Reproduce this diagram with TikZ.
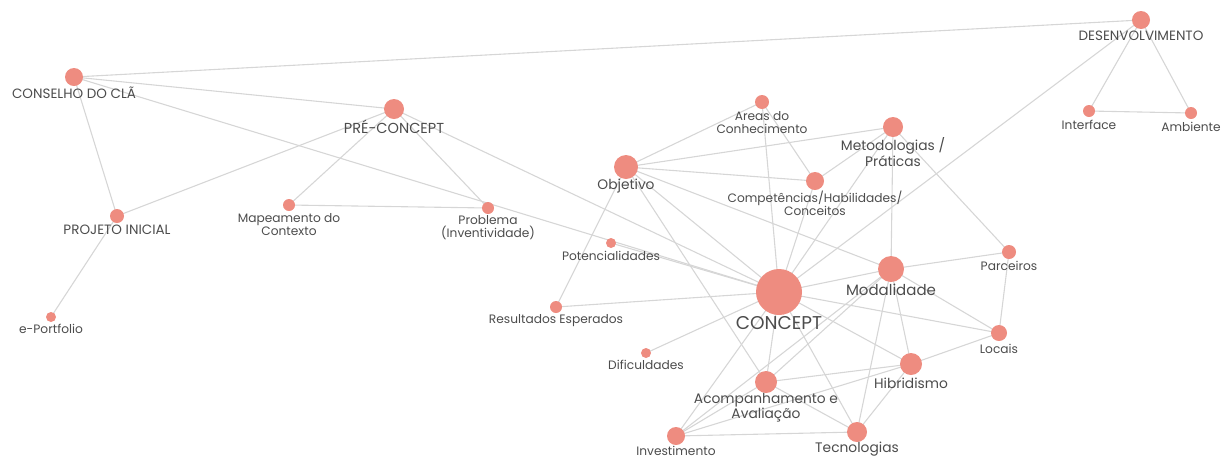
\documentclass[tikz,border=0pt]{standalone}
\usepackage{fontspec}
\setmainfont{Poppins}
\usetikzlibrary{backgrounds}
\definecolor{dot}{HTML}{EE8C80}
\definecolor{edge}{HTML}{D6D6D6}
\definecolor{txt}{HTML}{4C4C4C}
\begin{document}
\begin{tikzpicture}[x=1pt,y=-1pt,
  dotn/.style={circle,fill=dot,inner sep=0pt,minimum size=#1},
  lab/.style={text=txt,font=\fontsize{12.2}{13}\selectfont,align=center,inner sep=0pt},
  midlab/.style={lab,font=\fontsize{13.8}{14}\selectfont},
  caplab/.style={lab,font=\fontsize{13.5}{14}\selectfont},
  biglab/.style={lab,font=\fontsize{18.5}{19}\selectfont},
  link/.style={draw=edge,line width=1.1pt}]
\useasboundingbox (0,0) rectangle (1228,459);
% nodes
\node[dotn=18pt] (des) at (1141,20) {};
\node[dotn=12pt] (int) at (1089,111) {};
\node[dotn=12pt] (amb) at (1191,113) {};
\node[dotn=18pt] (con) at (74,77) {};
\node[dotn=20pt] (pre) at (394,109) {};
\node[dotn=14pt] (pro) at (117,216) {};
\node[dotn=10pt] (epf) at (51,317) {};
\node[dotn=12pt] (map) at (289,205) {};
\node[dotn=12pt] (prb) at (488,208) {};
\node[dotn=10pt] (pot) at (611,243) {};
\node[dotn=12pt] (res) at (556,307) {};
\node[dotn=10pt] (dif) at (646,353) {};
\node[dotn=24pt] (obj) at (626,167) {};
\node[dotn=14pt] (are) at (762,102) {};
\node[dotn=20pt] (met) at (893,127) {};
\node[dotn=18pt] (com) at (815,181) {};
\node[dotn=46pt] (cpt) at (779,292) {};
\node[dotn=26pt] (mod) at (891,269) {};
\node[dotn=14pt] (par) at (1009,252) {};
\node[dotn=16pt] (loc) at (999,333) {};
\node[dotn=22pt] (hib) at (911,364) {};
\node[dotn=22pt] (aco) at (766,382) {};
\node[dotn=18pt] (inv) at (676,436) {};
\node[dotn=20pt] (tec) at (857,432) {};
% edges
\begin{scope}[on background layer]
\foreach \a/\b in {con/des,con/pre,con/pro,con/cpt,pre/pro,pre/map,pre/prb,pre/cpt,map/prb,pro/epf,
  des/int,des/amb,int/amb,des/cpt,
  obj/are,obj/met,obj/com,obj/mod,obj/cpt,obj/aco,obj/res,
  are/cpt,are/com,met/com,met/cpt,met/mod,met/par,com/cpt,
  pot/cpt,res/cpt,dif/cpt,
  cpt/mod,cpt/loc,cpt/hib,cpt/aco,cpt/tec,cpt/inv,
  mod/par,mod/loc,mod/hib,mod/tec,mod/aco,mod/inv,
  par/loc,loc/hib,hib/aco,hib/inv,hib/tec,aco/tec,aco/inv,inv/tec}
  \draw[link] (\a.center) -- (\b.center);
\end{scope}
% labels
\node[caplab] (ldes) at (1141,36) {DESENVOLVIMENTO};
\node[lab] (lint) at (1089,125) {Interface};
\node[lab] (lamb) at (1191,127) {Ambiente};
\node[caplab] (lcon) at (74,93) {CONSELHO DO CLÃ};
\node[caplab,font=\fontsize{14.5}{15}\selectfont] (lpre) at (394,127) {PRÉ-CONCEPT};
\node[caplab] (lpro) at (117,230) {PROJETO INICIAL};
\node[lab] (lepf) at (51,329) {e-Portfolio};
\node[lab] (lmap) at (289,224.5) {Mapeamento do\\Contexto};
\node[lab] (lprb) at (488,228) {Problema\\(Inventividade)};
\node[lab] (lpot) at (611,256) {Potencialidades};
\node[lab] (lres) at (556,321) {Resultados Esperados};
\node[lab] (ldif) at (646,365) {Dificuldades};
\node[midlab] (lobj) at (626,186) {Objetivo};
\node[lab] (lare) at (762,122.5) {Areas do\\Conhecimento};
\node[midlab] (lmet) at (893,152) {Metodologias /\\Práticas};
\node[lab] (lcom) at (815,203.5) {Competências/Habilidades/\\Conceitos};
\node[biglab] (lcpt) at (779,323) {CONCEPT};
\node[midlab,font=\fontsize{15}{15}\selectfont] (lmod) at (891,290) {Modalidade};
\node[lab] (lpar) at (1009,266) {Parceiros};
\node[lab] (lloc) at (999,349) {Locais};
\node[midlab] (lhib) at (911,383) {Hibridismo};
\node[midlab] (laco) at (766,407.5) {Acompanhamento e\\Avaliação};
\node[lab] (linv) at (676,451) {Investimento};
\node[midlab] (ltec) at (857,449) {Tecnologias};
\end{tikzpicture}
\end{document}
